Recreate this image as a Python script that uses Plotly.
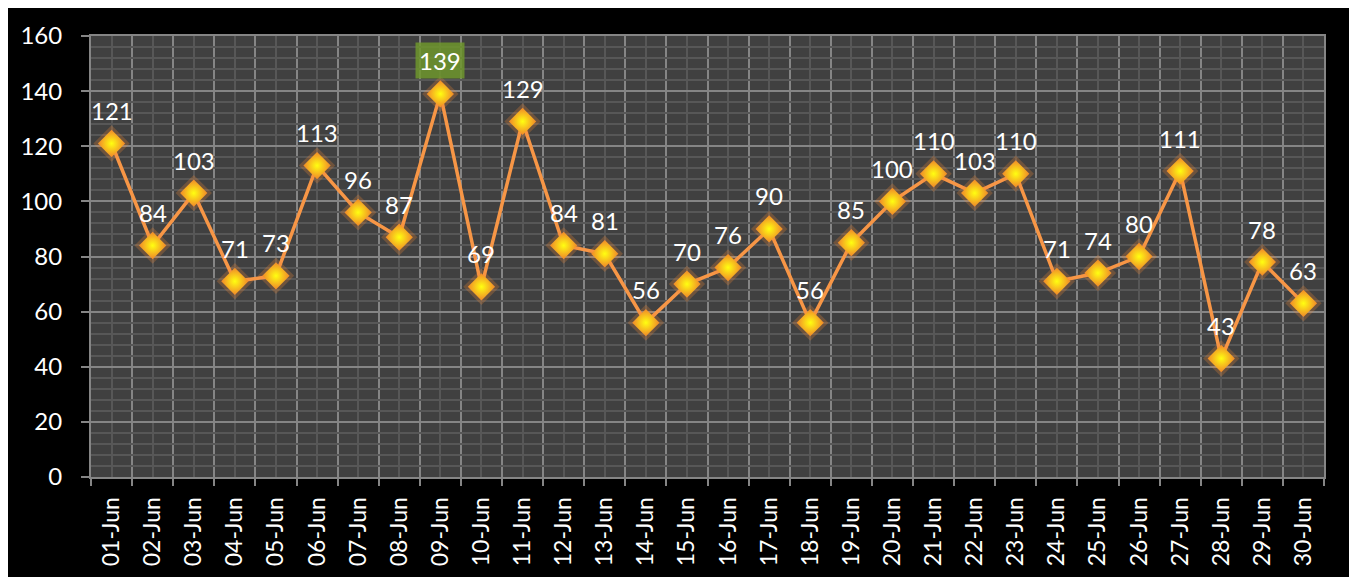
import plotly.graph_objects as go

dates = ["01-Jun", "02-Jun", "03-Jun", "04-Jun", "05-Jun", "06-Jun", "07-Jun", "08-Jun",
         "09-Jun", "10-Jun", "11-Jun", "12-Jun", "13-Jun", "14-Jun", "15-Jun", "16-Jun",
         "17-Jun", "18-Jun", "19-Jun", "20-Jun", "21-Jun", "22-Jun", "23-Jun", "24-Jun",
         "25-Jun", "26-Jun", "27-Jun", "28-Jun", "29-Jun", "30-Jun"]
values = [121, 84, 103, 71, 73, 113, 96, 87, 139, 69, 129, 84, 81, 56, 70, 76,
          90, 56, 85, 100, 110, 103, 110, 71, 74, 80, 111, 43, 78, 63]
highlight_label = "09-Jun"

x = list(range(1, len(dates) + 1))

FONT = "Lato"
LINE_COLOR = "#f79646"
MAJOR = "#858585"
MINOR = "#575757"

fig = go.Figure()
fig.add_trace(go.Scatter(x=x, y=values, mode="lines",
                         line=dict(color=LINE_COLOR, width=3.5), hoverinfo="skip"))
fig.add_trace(go.Scatter(x=x, y=values, mode="markers",
                         marker=dict(symbol="diamond", size=28, color="rgba(247,140,50,0.25)",
                                     line=dict(width=0)), hoverinfo="skip"))
fig.add_trace(go.Scatter(x=x, y=values, mode="markers",
                         marker=dict(symbol="diamond", size=21, color="#f0862a",
                                     gradient=dict(type="radial", color="#ffff10"),
                                     line=dict(width=0))))

for xi, d, v in zip(x, dates, values):
    extra = {}
    if d == highlight_label:
        extra = dict(bgcolor="rgba(110,150,45,0.85)", borderpad=3)
    fig.add_annotation(x=xi, y=v, text=str(v), showarrow=False, yshift=33,
                       font=dict(family=FONT, size=24, color="white"), **extra)

fig.update_layout(
    width=1344, height=569,
    margin=dict(l=83, r=28, t=28, b=100, pad=0),
    paper_bgcolor="black", plot_bgcolor="#404040",
    showlegend=False,
    font=dict(family=FONT, color="white"),
)
fig.update_xaxes(
    range=[0.5, len(dates) + 0.5],
    tickmode="array", tickvals=x, ticktext=dates, tickangle=-90,
    ticks="outside", ticklen=9, tickcolor="rgba(0,0,0,0)",
    tickfont=dict(family=FONT, size=23, color="white"),
    showgrid=True, gridcolor=MINOR, gridwidth=2,
    minor=dict(tickmode="array", tickvals=[i + 0.5 for i in range(0, len(dates) + 1)],
               showgrid=True, gridcolor=MAJOR, gridwidth=2,
               ticks="outside", ticklen=7, tickcolor=MAJOR, tickwidth=2),
    showline=True, linecolor=MAJOR, linewidth=2, mirror=True,
    zeroline=False, fixedrange=True,
)
fig.update_yaxes(
    range=[0, 160], dtick=20, tick0=0,
    ticks="outside", ticklen=8, tickcolor=MAJOR, tickwidth=2,
    ticklabelstandoff=14,
    tickfont=dict(family=FONT, size=24, color="white"),
    showgrid=True, gridcolor=MAJOR, gridwidth=2,
    minor=dict(dtick=4, showgrid=True, gridcolor=MINOR, gridwidth=2),
    showline=True, linecolor=MAJOR, linewidth=2, mirror=True,
    zeroline=False, fixedrange=True,
)

fig.write_html("out.html")
